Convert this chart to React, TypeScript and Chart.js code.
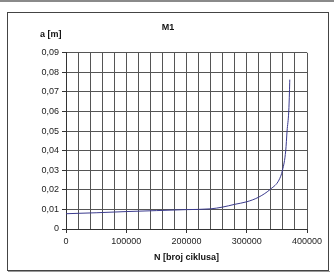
import React, { useEffect, useRef } from "react";
import { Chart, registerables } from "chart.js";

Chart.register(...registerables);

const cycles = [0, 20000, 50000, 100000, 150000, 200000, 240000, 260000, 280000, 300000, 320000, 340000, 353500, 359300, 364700, 366900, 369700, 370900, 371400];
const crackLength = [0.0078, 0.008, 0.0083, 0.0089, 0.0094, 0.0099, 0.0103, 0.0112, 0.0126, 0.0139, 0.0163, 0.0205, 0.025, 0.03, 0.04, 0.05, 0.06, 0.07, 0.0763];
const chartTitle = "M1";
const yAxisTitle = "a [m]";
const xAxisTitle = "N [broj ciklusa]";

const FONT = "'Liberation Sans', Arial, sans-serif";

const framePlugin = {
  id: "frame",
  beforeDraw(chart: any) {
    const ctx = chart.ctx;
    ctx.save();
    ctx.fillStyle = "#ffffff";
    ctx.fillRect(0, 0, chart.width, chart.height);
    ctx.fillStyle = "#8a8a8a";
    ctx.fillRect(0, 0, chart.width, 2);
    ctx.strokeStyle = "#444444";
    ctx.lineWidth = 1;
    ctx.strokeRect(7.5, 12.5, 321, 258);
    ctx.strokeStyle = "#999999";
    ctx.beginPath();
    ctx.moveTo(8, 271.5);
    ctx.lineTo(330, 271.5);
    ctx.stroke();
    ctx.restore();
  },
  afterDraw(chart: any) {
    const ctx = chart.ctx;
    ctx.save();
    ctx.fillStyle = "#111111";
    ctx.font = `bold 9px ${FONT}`;
    ctx.textAlign = "left";
    ctx.textBaseline = "middle";
    ctx.fillText(yAxisTitle, 40, 34.5);
    ctx.restore();
  },
};

export default function App() {
  const ref = useRef<HTMLCanvasElement>(null);
  useEffect(() => {
    if (!ref.current) return;
    const chart = new Chart(ref.current, {
      type: "line",
      data: {
        datasets: [
          {
            data: cycles.map((c, i) => ({ x: c, y: crackLength[i] })),
            borderColor: "#3b3b8e",
            borderWidth: 1,
            pointRadius: 0,
            cubicInterpolationMode: "monotone",
            fill: false,
          },
        ],
      },
      options: {
        animation: false,
        responsive: false,
        maintainAspectRatio: false,
        layout: { padding: { left: 29, right: 27, top: 12, bottom: 0 } },
        plugins: {
          legend: { display: false },
          tooltip: { enabled: false },
          title: {
            display: true,
            text: chartTitle,
            color: "#111111",
            font: { family: FONT, size: 9, weight: "bold" },
            padding: { top: 10, bottom: 20 },
          },
        },
        scales: {
          x: {
            type: "linear",
            min: 0,
            max: 400000,
            afterFit(scale: any) {
              scale.height = 44;
            },
            grid: {
              color: "#555555",
              lineWidth: 1,
              tickLength: 4,
              tickColor: (ctx: any) => (ctx.tick && ctx.tick.value % 100000 === 0 ? "#333333" : "rgba(0,0,0,0)"),
            },
            border: { color: "#333333" },
            ticks: {
              stepSize: 20000,
              autoSkip: false,
              maxRotation: 0,
              padding: 3,
              color: "#222222",
              font: { family: FONT, size: 9 },
              callback: (v: any) => (Number(v) % 100000 === 0 ? String(v) : ""),
            },
            title: {
              display: true,
              text: xAxisTitle,
              color: "#111111",
              font: { family: FONT, size: 9, weight: "bold" },
              padding: { top: 0, bottom: 10 },
            },
          },
          y: {
            min: 0,
            max: 0.09,
            afterFit(scale: any) {
              scale.width = 37;
            },
            grid: { color: "#555555", lineWidth: 1, tickLength: 4, tickColor: "#333333" },
            border: { color: "#333333" },
            ticks: {
              stepSize: 0.01,
              padding: 3,
              color: "#222222",
              font: { family: FONT, size: 9 },
              callback: (v: any) => {
                const n = Number(v);
                if (Math.abs(n) < 1e-9) return "0";
                return n.toFixed(2).replace(".", ",");
              },
            },
          },
        },
      },
      plugins: [framePlugin],
    } as any);
    return () => chart.destroy();
  }, []);
  return (
    <div style={{ position: "absolute", left: 0, top: 0, width: 334, height: 273 }}>
      <canvas ref={ref} width={334} height={273} style={{ display: "block" }} />
    </div>
  );
}
